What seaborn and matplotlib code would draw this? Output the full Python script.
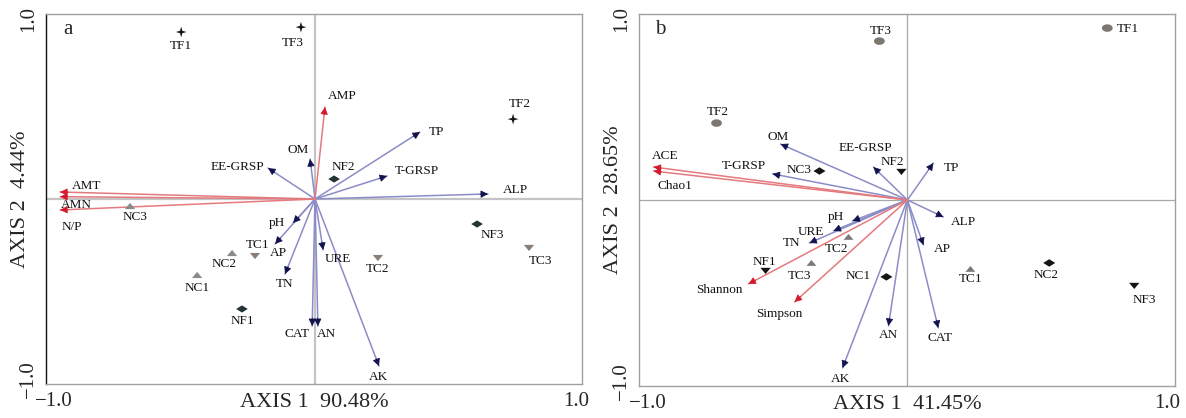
import numpy as np
import pandas as pd
import matplotlib
matplotlib.use("Agg")
import matplotlib.pyplot as plt
from matplotlib.path import Path
import seaborn as sns


# ============================================================
# DATA
# ============================================================

# --- panel a ---
sites_a = ["TF1", "TF2", "TF3", "NF1", "NF2", "NF3", "NC1", "NC2", "NC3", "TC1", "TC2", "TC3"]
sites_a_x = [-0.513, 0.759, -0.054, -0.280, 0.073, 0.621, -0.452, -0.318, -0.709, -0.230, 0.241, 0.820]
sites_a_y = [0.928, 0.444, 0.955, -0.611, 0.111, -0.139, -0.422, -0.300, -0.039, -0.317, -0.328, -0.272]

env_a = ["EE-GRSP", "OM", "TP", "T-GRSP", "ALP", "pH", "AP", "TN", "URE", "CAT", "AN", "AK"]
env_a_x = [-0.180, -0.019, 0.402, 0.276, 0.663, -0.084, -0.153, -0.115, 0.031, -0.011, 0.011, 0.245]
env_a_y = [0.172, 0.222, 0.372, 0.128, 0.028, -0.133, -0.250, -0.417, -0.283, -0.706, -0.706, -0.928]

resp_a = ["AMP", "AMT", "AMN", "N/P"]
resp_a_x = [0.038, -0.977, -0.977, -0.977]
resp_a_y = [0.511, 0.039, 0.013, -0.061]

axis1_a = "AXIS 1  90.48%"
axis2_a = "AXIS 2  4.44%"

# --- panel b ---
sites_b = ["TF1", "TF2", "TF3", "NF1", "NF2", "NF3", "NC1", "NC2", "NC3", "TC1", "TC2", "TC3"]
sites_b_x = [0.771, -0.736, -0.108, -0.547, -0.023, 0.875, -0.081, 0.547, -0.339, 0.243, -0.227, -0.370]
sites_b_y = [0.950, 0.425, 0.878, -0.392, 0.155, -0.475, -0.425, -0.348, 0.160, -0.381, -0.204, -0.348]

env_b = ["OM", "T-GRSP", "EE-GRSP", "TP", "ALP", "AP", "CAT", "AN", "AK", "pH", "URE", "TN"]
env_b_x = [-0.489, -0.520, -0.131, 0.100, 0.139, 0.062, 0.119, -0.073, -0.250, -0.212, -0.285, -0.378]
env_b_y = [0.309, 0.144, 0.182, 0.204, -0.094, -0.249, -0.707, -0.696, -0.928, -0.116, -0.171, -0.238]

resp_b = ["ACE", "Chao1", "Shannon", "Simpson"]
resp_b_x = [-0.979, -0.979, -0.613, -0.435]
resp_b_y = [0.182, 0.160, -0.464, -0.564]

axis1_b = "AXIS 1  41.45%"
axis2_b = "AXIS 2  28.65%"


# ============================================================
# LAYOUT / STYLE
# ============================================================

# label offsets (pixels, y up)
site_off_a = {"TF1": (0, -14), "TF3": (-8, -16), "TF2": (7, 15), "NF2": (9, 12),
              "NF3": (15, -11), "TC3": (11, -13), "TC2": (0, -11), "TC1": (3, 11),
              "NC2": (-8, -11), "NC1": (0, -13), "NC3": (5, -11), "NF1": (0, -12)}
env_off_a = {"EE-GRSP": (-31, 1), "OM": (-12, 9), "TP": (17, 0), "T-GRSP": (30, 5),
             "ALP": (27, 4), "pH": (-16, 0), "AP": (3, -9), "TN": (0, -10),
             "URE": (15, -9), "CAT": (-15, -8), "AN": (9, -8), "AK": (0, -11),
             "AMP": (17, 11), "AMT": (26, 6), "AMN": (16, -8), "N/P": (12, -17)}

site_off_b = {"TF1": (21, -1), "TF3": (1, 10), "TF2": (1, 11), "NC3": (-20, 1),
              "NF2": (-9, 10), "NF1": (-1, 9), "TC2": (-12, -12), "TC3": (-12, -13),
              "NC1": (-28, 1), "TC1": (0, -10), "NC2": (-3, -12), "NF3": (10, -14)}
env_off_b = {"ACE": (12, 11), "Chao1": (21, -15), "Shannon": (-29, -6), "Simpson": (-15, -12),
             "OM": (-2, 7), "T-GRSP": (-29, 8), "EE-GRSP": (-8, 19), "TP": (18, -5),
             "ALP": (20, -5), "AP": (19, -4), "CAT": (2, -10), "AN": (0, -9),
             "AK": (-2, -11), "pH": (-17, 4), "URE": (-23, -1), "TN": (-18, 0)}


def make_path(verts):
    verts = list(verts) + [verts[0]]
    codes = [Path.MOVETO] + [Path.LINETO] * (len(verts) - 2) + [Path.CLOSEPOLY]
    return Path(verts, codes)


star = make_path([(0, 1), (0.22, 0.22), (1, 0), (0.22, -0.22), (0, -1), (-0.22, -0.22), (-1, 0), (-0.22, 0.22)])
diamond = make_path([(0, 0.62), (1, 0), (0, -0.62), (-1, 0)])
tri_up = make_path([(-1, -0.6), (1, -0.6), (0, 0.6)])
tri_dn = make_path([(-1, 0.6), (1, 0.6), (0, -0.6)])
t = np.linspace(0, 2 * np.pi, 40, endpoint=False)
ellipse = make_path(list(zip(np.cos(t), 0.7 * np.sin(t))))

BLUE_SHAFT = "#8c8cc8"
BLUE_HEAD = "#12124e"
RED_SHAFT = "#e47a7e"
RED_HEAD = "#d41a2c"


def draw_arrows(ax, names, xs, ys, offsets, shaft, head):
    p0 = ax.transData.transform((0, 0))
    for n, x, y in zip(names, xs, ys):
        ax.plot([0, x], [0, y], color=shaft, lw=1.1, zorder=2)
        p1 = ax.transData.transform((x, y))
        u = (p1 - p0) / np.hypot(*(p1 - p0))
        ax.annotate("", xy=(x, y), xytext=(-u[0] * 8, -u[1] * 8), textcoords="offset pixels",
                    arrowprops=dict(arrowstyle="-|>,head_length=0.55,head_width=0.28",
                                    color=head, lw=0.6, shrinkA=0, shrinkB=0,
                                    mutation_scale=8), zorder=3)
        dx, dy = offsets[n]
        ax.annotate(n, xy=(x, y), xytext=(dx, dy), textcoords="offset pixels",
                    ha="center", va="center", fontsize=9.5, color="#111111")


def setup_axes(ax, xlim, ylim, xlabel, ylabel, letter, left_col, zero_col, zero_lw):
    ax.set_xlim(*xlim)
    ax.set_ylim(*ylim)
    ax.axvline(0, color=zero_col, lw=zero_lw, zorder=1)
    ax.axhline(0, color=zero_col, lw=zero_lw, zorder=1)
    for s in ax.spines.values():
        s.set_color("#a0a0a0")
        s.set_linewidth(1.0)
    ax.spines["left"].set_color(left_col)
    ticks = [-1, -0.5, 0, 0.5, 1]
    ax.set_xticks(ticks)
    ax.set_xticklabels(["\u22121.0", "", "", "", "1.0"])
    ax.set_yticks(ticks)
    ax.set_yticklabels(["\u22121.0", "", "", "", "1.0"], rotation=90, va="center")
    ax.tick_params(direction="out", length=3, width=1, color="#909090",
                   labelsize=15, pad=3)
    ax.set_xlabel(xlabel, fontsize=16)
    ax.set_ylabel(ylabel, fontsize=16)
    ax.xaxis.set_label_coords(0.5, -0.024)
    ax.yaxis.set_label_coords(-0.03, 0.5)
    ax.text(0.04, 0.957, letter, transform=ax.transAxes, fontsize=15,
            ha="center", va="center")


def draw_sites(ax, names, xs, ys, markers, palette, sizes, offsets):
    df = pd.DataFrame({"site": names, "x": xs, "y": ys})
    df["group"] = df["site"].str[:2]
    sns.scatterplot(data=df, x="x", y="y", hue="group", style="group",
                    size="group", sizes=sizes, markers=markers, palette=palette,
                    linewidth=0, legend=False, ax=ax, zorder=4)
    for _, r in df.iterrows():
        dx, dy = offsets[r["site"]]
        ax.annotate(r["site"], xy=(r["x"], r["y"]), xytext=(dx, dy),
                    textcoords="offset pixels", ha="center", va="center",
                    fontsize=9.5, color="#111111")


# ============================================================
# PLOT
# ============================================================

sns.set_style("white")
plt.rcParams["font.family"] = ["Liberation Serif", "DejaVu Serif"]
plt.rcParams["axes.unicode_minus"] = True

fig = plt.figure(figsize=(11.86, 4.18), dpi=100)
ax_a = fig.add_axes([0.0388, 0.0813, 0.4519, 0.8852])
ax_b = fig.add_axes([0.5388, 0.0766, 0.4519, 0.8900])

setup_axes(ax_a, (-1.031, 1.023), (-1.028, 1.028), axis1_a, axis2_a, "a",
           "#111111", "#c4c4c4", 1.6)
setup_axes(ax_b, (-1.035, 1.032), (-1.028, 1.028), axis1_b, axis2_b, "b",
           "#a0a0a0", "#a8a8a8", 0.9)

draw_arrows(ax_a, env_a, env_a_x, env_a_y, env_off_a, BLUE_SHAFT, BLUE_HEAD)
draw_arrows(ax_a, resp_a, resp_a_x, resp_a_y, env_off_a, RED_SHAFT, RED_HEAD)
draw_sites(ax_a, sites_a, sites_a_x, sites_a_y,
           markers={"TF": star, "NF": diamond, "NC": tri_up, "TC": tri_dn},
           palette={"TF": "#151515", "NF": "#243434", "NC": "#8a8a8a", "TC": "#8a7f77"},
           sizes={"TF": 60, "NF": 70, "NC": 55, "TC": 55},
           offsets=site_off_a)

draw_arrows(ax_b, env_b, env_b_x, env_b_y, env_off_b, BLUE_SHAFT, BLUE_HEAD)
draw_arrows(ax_b, resp_b, resp_b_x, resp_b_y, env_off_b, RED_SHAFT, RED_HEAD)
draw_sites(ax_b, sites_b, sites_b_x, sites_b_y,
           markers={"TF": ellipse, "NF": tri_dn, "NC": diamond, "TC": tri_up},
           palette={"TF": "#7e7770", "NF": "#151515", "NC": "#151515", "TC": "#7a7a7a"},
           sizes={"TF": 60, "NF": 55, "NC": 75, "TC": 50},
           offsets=site_off_b)

fig.savefig("out.png", dpi=100)
plt.close(fig)
